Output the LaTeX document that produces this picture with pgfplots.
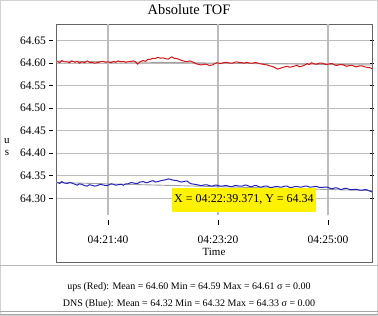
\documentclass[border=0pt]{standalone}
\usepackage{fontspec}
\setmainfont{Liberation Serif}
\usepackage{pgfplots}
\pgfplotsset{compat=1.18}
\definecolor{redline}{RGB}{215,20,25}
\definecolor{blueline}{RGB}{35,35,185}
\definecolor{gridgray}{RGB}{188,188,188}
\definecolor{framegray}{RGB}{100,100,100}
\definecolor{trendgray}{RGB}{160,160,160}
\begin{document}
\begin{tikzpicture}
\useasboundingbox (0pt,0pt) rectangle (378pt,316pt);
\draw[gray!35] (0.5pt,0.5pt) rectangle (377.5pt,315.5pt);
\draw[gray!55, line width=0.8pt] (0pt,51pt) -- (378pt,51pt);
\draw[gray!70] (0pt,5pt) -- (378pt,5pt);
\draw[gray!70] (0pt,2pt) -- (378pt,2pt);
\node[font=\fontsize{14.4}{17}\selectfont] at (189pt,306pt) {Absolute TOF};
\node[font=\fontsize{11}{12}\selectfont, align=center] at (7pt,169pt) {u\\s};
\node[font=\fontsize{10}{12}\selectfont] at (189pt,29pt) {ups (Red): Mean = 64.60 Min = 64.59 Max = 64.61 σ = 0.00};
\node[font=\fontsize{10}{12}\selectfont] at (189pt,12pt) {DNS (Blue): Mean = 64.32 Min = 64.32 Max = 64.33 σ = 0.00};
\begin{axis}[
  at={(56pt,54pt)}, anchor=south west, scale only axis,
  width=316pt, height=238pt,
  xmin=-47.3, xmax=240, ymin=64.1585, ymax=64.687,
  axis line style={draw=framegray, line width=0.8pt},
  xtick={0,100,200}, xticklabels={04:21:40,04:23:20,04:25:00},
  xtick style={draw=none},
  xticklabel style={font=\fontsize{11.5}{13}\selectfont, yshift=34pt},
  xlabel={Time},
  xlabel style={font=\fontsize{11}{13}\selectfont, at={(axis description cs:0.5,0)}, anchor=center, yshift=10pt},
  ytick={64.30,64.35,64.40,64.45,64.50,64.55,64.60,64.65},
  ymajorgrids, grid style={gridgray, line width=1.1pt},
  tick align=outside, major tick length=4pt,
  ytick style={draw=black, line width=0.9pt, xshift=-2.5pt},
  yticklabel style={font=\fontsize{11.5}{13}\selectfont, xshift=-2.5pt,
    /pgf/number format/.cd, fixed, fixed zerofill, precision=2, assume math mode=true},
]
\foreach \xx in {0,100,200} {
  \edef\tmp{\noexpand\draw[gridgray, line width=1.1pt] (axis cs:\xx,64.262) -- (axis cs:\xx,64.687);
  \noexpand\draw[black, line width=0.8pt] (axis cs:\xx,64.2406) -- (axis cs:\xx,64.252);}
  \tmp
}
\addplot[trendgray, line width=0.9pt] coordinates {(-47,64.6045) (240,64.596)};
\addplot[trendgray, line width=0.9pt] coordinates {(-47,64.335) (240,64.317)};
\addplot[redline, line width=1pt] coordinates {
(-46,64.604) (-44,64.601) (-42,64.606) (-40,64.603) (-37,64.603) (-35,64.601) (-33,64.605) (-30,64.602)
(-28,64.604) (-26,64.600) (-24,64.603) (-21,64.601) (-19,64.605) (-17,64.602) (-15,64.602) (-12,64.600)
(-10,64.601) (-7,64.603) (-5,64.604) (-2,64.602) (0,64.603) (3,64.601) (5,64.604) (7,64.602)
(9,64.605) (12,64.603) (14,64.604) (16,64.602) (18,64.603) (21,64.604) (23,64.605) (25,64.603)
(27,64.598) (29,64.603) (32,64.606) (34,64.604) (36,64.608) (39,64.609) (41,64.611) (43,64.610)
(45,64.613) (48,64.611) (50,64.612) (52,64.610) (55,64.609) (57,64.613) (58,64.614) (60,64.611)
(63,64.610) (65,64.608) (67,64.606) (70,64.604) (72,64.603) (74,64.605) (76,64.604) (79,64.600)
(81,64.598) (83,64.597) (85,64.596) (88,64.598) (90,64.597) (92,64.595) (95,64.596) (97,64.599)
(99,64.601) (102,64.599) (104,64.600) (106,64.602) (108,64.602) (111,64.600) (113,64.600) (115,64.602)
(117,64.603) (120,64.601) (122,64.601) (124,64.600) (126,64.602) (129,64.600) (131,64.600) (133,64.601)
(135,64.601) (138,64.599) (140,64.598) (142,64.597) (145,64.596) (147,64.594) (149,64.593) (152,64.590)
(154,64.587) (156,64.588) (158,64.590) (161,64.592) (163,64.593) (165,64.591) (167,64.592) (170,64.594)
(172,64.595) (174,64.592) (176,64.593) (179,64.596) (181,64.599) (183,64.597) (185,64.601) (188,64.598)
(190,64.598) (192,64.600) (195,64.600) (197,64.598) (199,64.597) (202,64.599) (204,64.599) (206,64.596)
(208,64.595) (211,64.597) (213,64.597) (215,64.595) (217,64.593) (220,64.595) (222,64.595) (224,64.593)
(226,64.592) (229,64.594) (231,64.594) (233,64.592) (235,64.591) (238,64.590) (240,64.588)
};
\addplot[blueline, line width=1pt] coordinates {
(-46,64.335) (-44,64.333) (-42,64.337) (-40,64.334) (-37,64.333) (-35,64.335) (-33,64.334) (-30,64.331)
(-28,64.329) (-26,64.332) (-24,64.331) (-21,64.328) (-19,64.327) (-17,64.330) (-15,64.329) (-12,64.327)
(-10,64.328) (-7,64.331) (-5,64.330) (-2,64.328) (0,64.329) (3,64.332) (5,64.331) (7,64.329)
(9,64.330) (12,64.331) (14,64.329) (16,64.332) (18,64.332) (21,64.335) (23,64.334) (25,64.333)
(27,64.333) (29,64.336) (32,64.337) (34,64.335) (36,64.335) (39,64.338) (41,64.339) (43,64.336)
(45,64.337) (48,64.339) (50,64.340) (52,64.341) (55,64.343) (57,64.342) (58,64.341) (60,64.340)
(63,64.339) (65,64.337) (67,64.336) (70,64.338) (72,64.338) (74,64.334) (76,64.332) (79,64.331)
(81,64.330) (83,64.329) (85,64.328) (88,64.330) (90,64.330) (92,64.328) (95,64.327) (97,64.329)
(99,64.329) (102,64.327) (104,64.327) (106,64.328) (108,64.328) (111,64.326) (113,64.326) (115,64.328)
(117,64.328) (120,64.327) (122,64.327) (124,64.329) (126,64.329) (129,64.326) (131,64.326) (133,64.328)
(135,64.328) (138,64.325) (140,64.325) (142,64.327) (145,64.327) (147,64.324) (149,64.324) (152,64.326)
(154,64.326) (156,64.325) (158,64.325) (161,64.327) (163,64.327) (165,64.324) (167,64.324) (170,64.326)
(172,64.326) (174,64.325) (176,64.325) (179,64.327) (181,64.327) (183,64.325) (185,64.325) (188,64.326)
(190,64.326) (192,64.324) (195,64.324) (197,64.325) (199,64.325) (202,64.322) (204,64.321) (206,64.323)
(208,64.323) (211,64.320) (213,64.320) (215,64.322) (217,64.322) (220,64.319) (222,64.319) (224,64.320)
(226,64.320) (229,64.318) (231,64.318) (233,64.319) (235,64.319) (238,64.316) (240,64.314)
};
\node[fill=yellow, inner sep=0pt, minimum width=144pt, minimum height=24pt, font=\fontsize{12}{14}\selectfont]
  at (axis cs:123.6,64.297) {X = 04:22:39.371, Y = 64.34};
\end{axis}
\end{tikzpicture}
\end{document}
